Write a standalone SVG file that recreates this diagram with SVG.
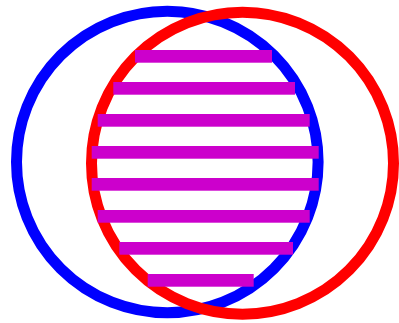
<svg xmlns="http://www.w3.org/2000/svg" width="399" height="323" viewBox="0 0 399 323">
<style>
.c{fill:none;stroke-width:11}
.bar{fill:#cc00cc}
</style>
<rect width="399" height="323" fill="#fff"/>
<g id="blue"><circle class="c" cx="167.3" cy="162" r="150.8" stroke="#0000ff"/></g>
<g id="red"><circle class="c" cx="242.5" cy="163.2" r="151" stroke="#ff0000"/></g>
<g id="bars">
<rect class="bar" x="135" y="50" width="137" height="12.7"/>
<rect class="bar" x="113.3" y="82" width="181.7" height="12.7"/>
<rect class="bar" x="97.7" y="114" width="212" height="12.7"/>
<rect class="bar" x="91.7" y="146" width="227" height="12.7"/>
<rect class="bar" x="91.7" y="178" width="227" height="12.7"/>
<rect class="bar" x="97.7" y="210" width="212" height="12.7"/>
<rect class="bar" x="119.3" y="242" width="173.7" height="12.7"/>
<rect class="bar" x="147.7" y="274" width="106" height="12.7"/>
</g>
</svg>
